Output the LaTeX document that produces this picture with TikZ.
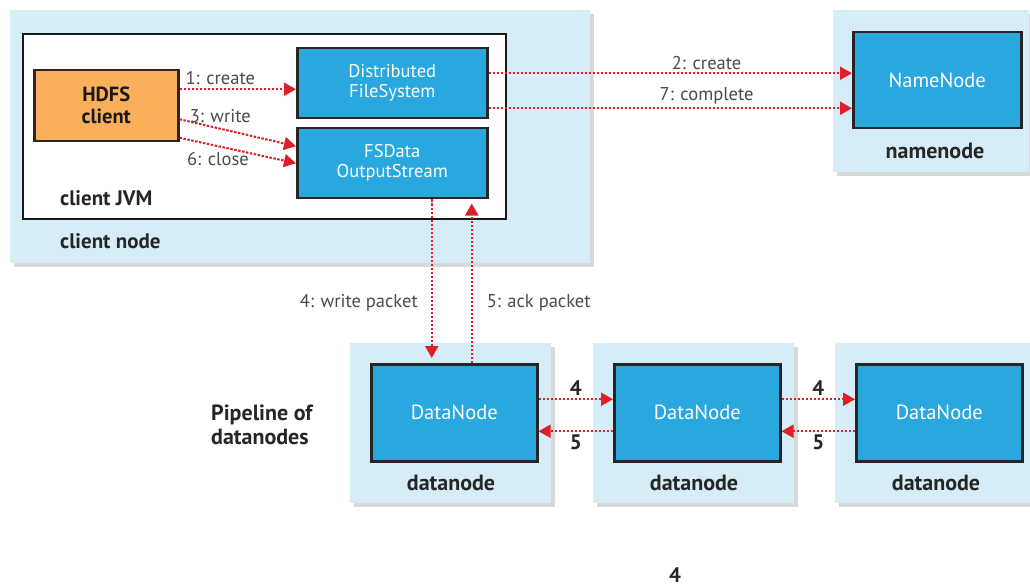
\documentclass[tikz,border=0pt]{standalone}
\usepackage{fontspec}
\setmainfont{PT Sans}
\usetikzlibrary{arrows.meta,shadows}
\definecolor{nodofondo}{RGB}{214,236,246}
\definecolor{blu}{RGB}{41,168,224}
\definecolor{arancio}{RGB}{250,176,90}
\definecolor{rosso}{RGB}{222,30,40}
\definecolor{testo}{RGB}{75,75,75}
\tikzset{
  esterno/.style={fill=nodofondo, anchor=north west, inner sep=0pt,
    drop shadow={shadow xshift=4pt, shadow yshift=-4pt, opacity=0.3}},
  jvm/.style={fill=white, draw=black!90, line width=2pt, anchor=north west, inner sep=0pt},
  blubox/.style={fill=blu, draw=black!85, line width=2.5pt, text=white, align=center,
    anchor=north west, inner sep=0pt, font=\fontsize{18.5}{20}\selectfont},
  grande/.style={font=\fontsize{20.5}{22}\selectfont},
  clientbox/.style={fill=arancio, draw=black!85, line width=2.5pt, text=black!90, align=center,
    anchor=north west, inner sep=0pt, font=\fontsize{20.5}{22}\selectfont\bfseries},
  etichetta/.style={text=testo, inner sep=1pt, font=\fontsize{18.5}{21}\selectfont},
  etichettab/.style={text=black!85, inner sep=1pt, font=\fontsize{22}{24}\selectfont\bfseries},
  etichettac/.style={text=black!85, inner sep=1pt, font=\fontsize{21}{23}\selectfont\bfseries},
  msg/.style={rosso, line width=2pt, dash pattern=on 2.5pt off 1.5pt,
    -{Triangle[length=12pt,width=13pt]}}
}
\begin{document}
\begin{tikzpicture}[x=1pt,y=-1pt]
  % Sfondo
  \useasboundingbox[fill=white] (0,0) rectangle (1030,588);

  % Nodo client
  \node[esterno, minimum width=580pt, minimum height=253pt] (clientnode) at (10,10) {};
  \node[jvm, minimum width=483pt, minimum height=185pt] (jvmbox) at (22,33) {};
  \node[clientbox, minimum width=144pt, minimum height=71pt] (hdfs) at (33,69) {HDFS\\client};
  \node[blubox, minimum width=190pt, minimum height=70pt] (dfs) at (296,47) {Distributed\\FileSystem};
  \node[blubox, minimum width=190pt, minimum height=70pt] (fsdata) at (296,127) {FSData\\OutputStream};
  \node[etichettac, anchor=west] (lbljvm) at (59,198) {client JVM};
  \node[etichettac, anchor=west] (lblclient) at (59,241) {client node};

  % Namenode
  \node[esterno, minimum width=196pt, minimum height=162pt] (nnnode) at (833,10) {};
  \node[blubox, grande, minimum width=168pt, minimum height=96pt] (nn) at (852,31) {NameNode};
  \node[etichettab] (lblnn) at (935,151) {namenode};

  % Datanode
  \foreach \i/\x in {1/350, 2/593, 3/835} {
    \node[esterno, minimum width=201pt, minimum height=160pt] (dnnode\i) at (\x,343) {};
    \node[blubox, grande, minimum width=166pt, minimum height=97pt] (dn\i) at (\x+20,363) {DataNode};
    \node[etichettab] (lbldn\i) at (\x+101,483) {datanode};
  }
  \node[etichettab, align=left, anchor=west] (pipeline) at (210,425) {Pipeline of\\datanodes};

  % Punti di attacco
  \coordinate (c1) at ([yshift=16.5pt]hdfs.east);
  \coordinate (c2) at ([yshift=10pt]dfs.east);
  \coordinate (c7) at ([yshift=-25pt]dfs.east);
  \coordinate (w4) at ([xshift=-22.5pt]dn1.north);
  \coordinate (a5) at ([xshift=17.5pt]dn1.north);

  % Chiamate del client
  \draw[msg] (c1) -- (c1 -| dfs.west) node[etichetta, pos=0.35, above=3pt] (lbl1) {1: create};
  \draw[msg] ([yshift=-13.5pt]hdfs.east) -- ([yshift=17pt]fsdata.west)
    node[etichetta, pos=0.35, above=4pt] (lbl3) {3: write};
  \draw[msg] ([yshift=-32pt]hdfs.east) -- (fsdata.west)
    node[etichetta, pos=0.33, below=4pt] (lbl6) {6: close};
  \draw[msg] (c2) -- (c2 -| nn.west) node[etichetta, pos=0.6, above=2pt] (lbl2) {2: create};
  \draw[msg] (c7) -- (c7 -| nn.west) node[etichetta, pos=0.6, above=2pt] (lbl7) {7: complete};

  % Pacchetti
  \draw[msg, shorten >=5pt] (w4 |- fsdata.south) -- (w4)
    node[etichetta, pos=0.63, left=12pt] (lbl4) {4: write packet};
  \draw[msg, shorten >=4pt] (a5) -- (a5 |- fsdata.south)
    node[etichetta, pos=0.37, right=13pt] (lbl5) {5: ack packet};

  % Pipeline
  \foreach \a/\b in {1/2, 2/3} {
    \draw[msg] ([yshift=13.5pt]dn\a.east) -- ([yshift=13.5pt]dn\b.west)
      node[etichettac, midway, above=2pt] {4};
    \draw[msg] ([yshift=-18.5pt]dn\b.west) -- ([yshift=-18.5pt]dn\a.east)
      node[etichettac, midway, below=2pt] {5};
  }

  \node[etichettac] (pagina) at (675,575) {4};
\end{tikzpicture}
\end{document}
